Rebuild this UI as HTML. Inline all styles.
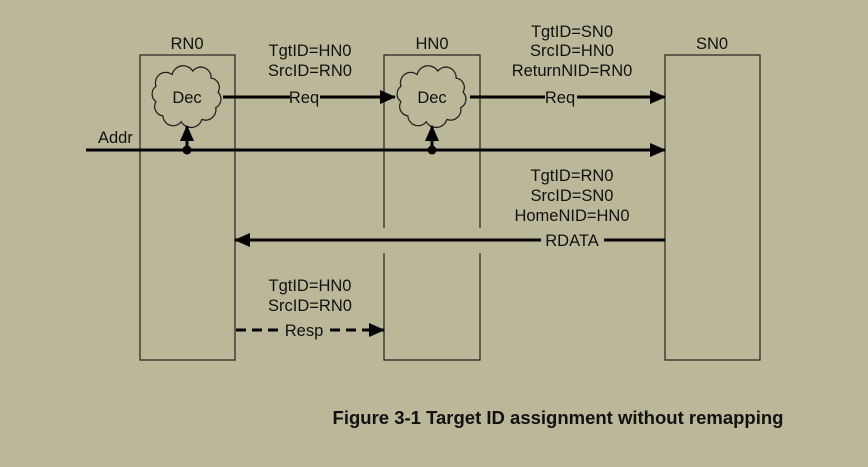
<!DOCTYPE html>
<html><head><style>
body{margin:0;background:#bab898;}
svg{display:block}
text{font-family:"Liberation Sans",Arial,sans-serif;font-size:16.5px;fill:#111}
</style></head><body>
<svg width="868" height="467" viewBox="0 0 868 467" xmlns="http://www.w3.org/2000/svg">
<rect width="868" height="467" fill="#bab898"/>
<defs>
<marker id="a" markerWidth="16" markerHeight="14" refX="15" refY="7" orient="auto" markerUnits="userSpaceOnUse"><path d="M0,0 L16,7 L0,14 Z" fill="#000"/></marker>
</defs>
<g fill="none" stroke="#222" stroke-width="1.2">
<rect x="140" y="55" width="95" height="305"/>
<rect x="665" y="55" width="95" height="305"/>
<path d="M384,228 V55 H480 V228 M384,253 V360 H480 V253"/>
</g>
<g text-anchor="middle">
<text x="187" y="49">RN0</text>
<text x="432" y="49">HN0</text>
<text x="712" y="49">SN0</text>
<text x="310" y="56">TgtID=HN0</text>
<text x="310" y="76">SrcID=RN0</text>
<text x="572" y="37">TgtID=SN0</text>
<text x="572" y="56">SrcID=HN0</text>
<text x="572" y="76">ReturnNID=RN0</text>
<text x="572" y="181">TgtID=RN0</text>
<text x="572" y="201">SrcID=SN0</text>
<text x="572" y="221">HomeNID=HN0</text>
<text x="310" y="291">TgtID=HN0</text>
<text x="310" y="311">SrcID=RN0</text>
</g>
<g fill="#bab898" stroke="#222" stroke-width="1.1">
<path transform="translate(187,97) scale(1.15,1.18) translate(-187,-97)" d="M160,88 a9,9 0 0 1 14,-10 a10,10 0 0 1 18,-3 a9,9 0 0 1 16,6 a8,8 0 0 1 6,12 a8,8 0 0 1 -2,13 a9,9 0 0 1 -12,10 a10,10 0 0 1 -18,2 a9,9 0 0 1 -16,-5 a8,8 0 0 1 -6,-12 a8,8 0 0 1 0,-13 z"/>
<path transform="translate(432,97) scale(1.15,1.18) translate(-432,-97)" d="M405,88 a9,9 0 0 1 14,-10 a10,10 0 0 1 18,-3 a9,9 0 0 1 16,6 a8,8 0 0 1 6,12 a8,8 0 0 1 -2,13 a9,9 0 0 1 -12,10 a10,10 0 0 1 -18,2 a9,9 0 0 1 -16,-5 a8,8 0 0 1 -6,-12 a8,8 0 0 1 0,-13 z"/>
</g>
<text x="187" y="103" text-anchor="middle">Dec</text>
<text x="432" y="103" text-anchor="middle">Dec</text>
<g stroke="#000" stroke-width="3" fill="none">
<line x1="223" y1="97" x2="290" y2="97"/>
<line x1="320" y1="97" x2="395" y2="97" marker-end="url(#a)"/>
<line x1="470" y1="97" x2="545" y2="97"/>
<line x1="577" y1="97" x2="665" y2="97" marker-end="url(#a)"/>
<line x1="86" y1="150" x2="665" y2="150" marker-end="url(#a)"/>
<line x1="187" y1="150" x2="187" y2="126" marker-end="url(#a)"/>
<line x1="432" y1="150" x2="432" y2="126" marker-end="url(#a)"/>
<line x1="665" y1="240" x2="604" y2="240"/>
<line x1="541" y1="240" x2="235" y2="240" marker-end="url(#a)"/>
<line x1="236" y1="330" x2="283" y2="330" stroke-dasharray="10,6"/>
<line x1="330" y1="330" x2="384" y2="330" stroke-dasharray="10,6" marker-end="url(#a)"/>
</g>
<circle cx="187" cy="150" r="4.5" fill="#000"/>
<circle cx="432" cy="150" r="4.5" fill="#000"/>
<text x="304" y="103" text-anchor="middle">Req</text>
<text x="560" y="103" text-anchor="middle">Req</text>
<text x="98" y="143">Addr</text>
<text x="572" y="246" text-anchor="middle">RDATA</text>
<text x="304" y="336" text-anchor="middle">Resp</text>
<text x="558" y="424" text-anchor="middle" style="font-weight:bold;font-size:18.5px">Figure 3-1 Target ID assignment without remapping</text>
</svg>
</body></html>
